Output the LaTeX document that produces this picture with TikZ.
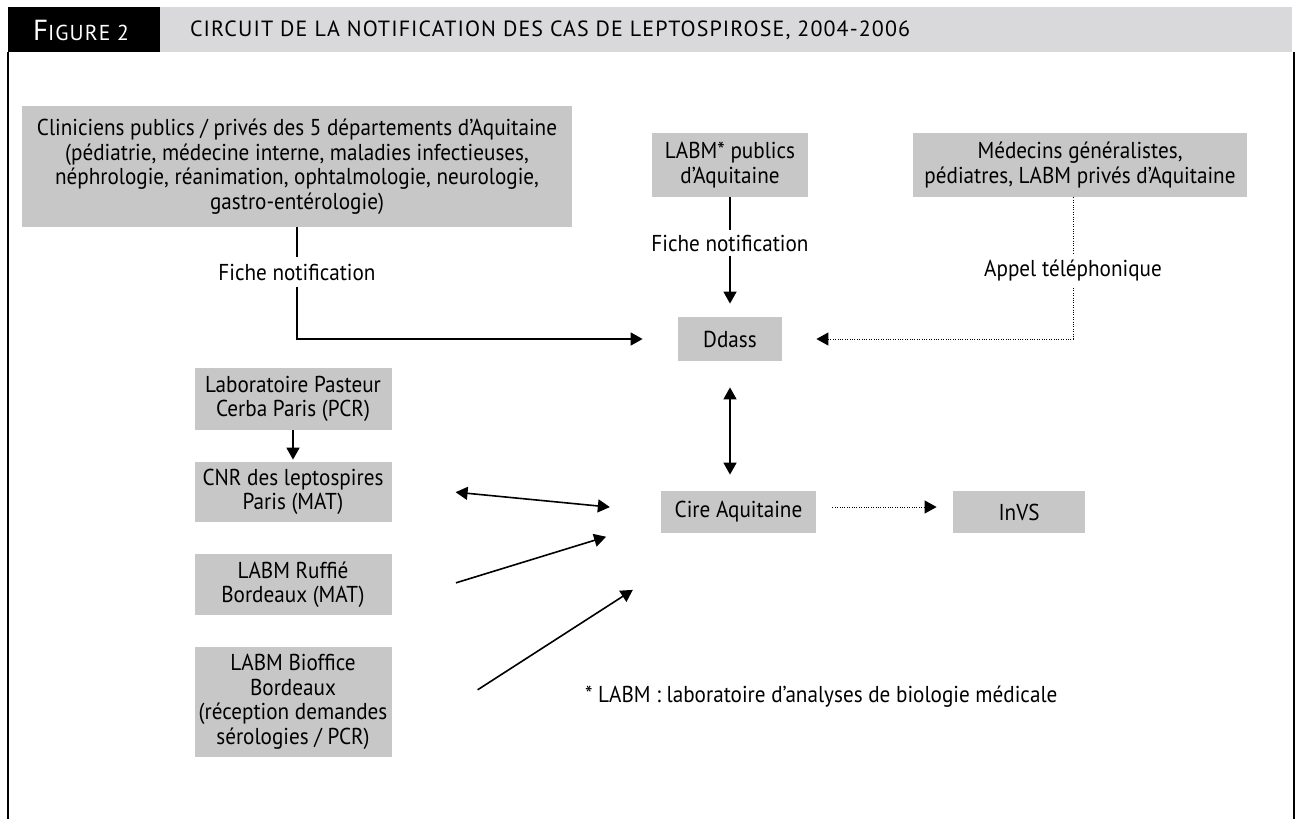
\documentclass[tikz,border=0pt]{standalone}
\usepackage{fontspec}
\setmainfont{PT Sans}[FakeStretch=0.92]
\newfontfamily\titrefont{PT Sans}[LetterSpace=5]
\usetikzlibrary{arrows.meta}
\definecolor{grisboite}{RGB}{199,199,199}
\definecolor{gristitre}{RGB}{217,217,219}
\newcommand{\txt}{\fontsize{11.5}{12.25}\selectfont}

\begin{document}
\begin{tikzpicture}[x=0.5pt, y=-0.5pt, >={Triangle[length=6pt,width=6.5pt]},
  boite/.style={fill=grisboite, align=center, inner sep=0pt, font=\txt},
  etiq/.style={align=center, inner xsep=2pt, inner ysep=3pt, font=\txt},
  trait/.style={line width=0.8pt},
  pointille/.style={line width=0.5pt, dash pattern=on 0.4pt off 0.8pt}]
\useasboundingbox (0,0) rectangle (1300,819);

% bandeau du titre et cadre
\fill (8,7) rectangle (160,52);
\fill[gristitre] (160,7) rectangle (1292,52);
\node[anchor=west, text=white, font=\titrefont\fontsize{10.8}{12}\selectfont] (fig) at (26,30)
  {{\fontsize{14.5}{15}\selectfont F}IGURE 2};
\node[anchor=west, font=\titrefont\fontsize{11}{12}\selectfont] (titre) at (183,30)
  {CIRCUIT DE LA NOTIFICATION DES CAS DE LEPTOSPIROSE, 2004-2006};
\draw[line width=0.8pt] (8,52) -- (8,819);
\draw[line width=0.8pt] (1294,52) -- (1294,819);

% declarants
\node[boite, minimum width=275pt, minimum height=60.5pt] (clin) at (297,166.5)
  {Cliniciens publics / privés des 5 départements d’Aquitaine\\
   (pédiatrie, médecine interne, maladies infectieuses,\\
   néphrologie, réanimation, ophtalmologie, neurologie,\\
   gastro-entérologie)};
\node[boite, minimum width=78pt, minimum height=32pt] (labpub) at (730,165)
  {LABM* publics\\d’Aquitaine};
\node[boite, minimum width=167pt, minimum height=32pt] (medecins) at (1080,165)
  {Médecins généralistes,\\pédiatres, LABM privés d’Aquitaine};
\node[boite, minimum width=52pt, minimum height=22pt] (ddass) at (730,339) {Ddass};

% laboratoires
\node[boite, minimum width=98.5pt, minimum height=31pt] (pasteur) at (293,399)
  {Laboratoire Pasteur\\Cerba Paris (PCR)};
\node[boite, minimum width=98.5pt, minimum height=30pt] (cnr) at (293,492)
  {CNR des leptospires\\Paris (MAT)};
\node[boite, minimum width=98.5pt, minimum height=30.5pt] (ruffie) at (293,584.5)
  {LABM Ruffié\\Bordeaux (MAT)};
\node[boite, minimum width=98.5pt, minimum height=55pt] (bioffice) at (293,702)
  {LABM Bioffice\\Bordeaux\\(réception demandes\\sérologies / PCR)};
\node[boite, minimum width=77.5pt, minimum height=21pt] (cire) at (738.5,512) {Cire Aquitaine};
\node[boite, minimum width=66pt, minimum height=21pt] (invs) at (1019,512) {InVS};

% libelles des liaisons
\node[etiq] (fiche1) at (297,272) {Fiche notification};
\node[etiq, inner ysep=2pt] (fiche2) at (730,243) {Fiche notification};
\node[etiq] (appel) at (1073,271) {Appel téléphonique};
\node[font=\txt, anchor=west] (note) at (578,697) {* LABM : laboratoire d’analyses de biologie médicale};

% liaisons
\draw[trait] (clin.south) -- (fiche1.north);
\draw[trait, ->, shorten >=17.5pt] (fiche1.south) |- (ddass.west);
\draw[trait] (labpub.south) -- (fiche2.north);
\draw[trait, ->, shorten >=6.5pt] (fiche2.south) -- (ddass.north);
\draw[pointille] (appel |- medecins.south) -- (appel.north);
\draw[pointille, ->, shorten >=17pt] (appel.south) |- (ddass.east);
\draw[trait, <->, shorten <=13pt, shorten >=8pt] (ddass.south) -- (ddass.south |- cire.north);
\draw[trait, ->, shorten >=1pt] (pasteur.south) -- (cnr.north);
\draw[trait, <->, shorten <=32pt, shorten >=25.5pt] ([yshift=3pt]cnr.east) -- (cire.west);
\draw[trait, ->, shorten <=33.5pt, shorten >=28.5pt] ([yshift=-9pt]ruffie.east) -- ([yshift=-4pt]cire.west);
\draw[trait, ->, shorten <=51pt, shorten >=16.5pt] ([yshift=-21.5pt]bioffice.east) -- ([yshift=-30pt]cire.west);
\draw[pointille, ->, shorten <=8pt, shorten >=8pt] ([yshift=2.5pt]cire.east) -- ([yshift=2.5pt]invs.west);
\end{tikzpicture}
\end{document}
